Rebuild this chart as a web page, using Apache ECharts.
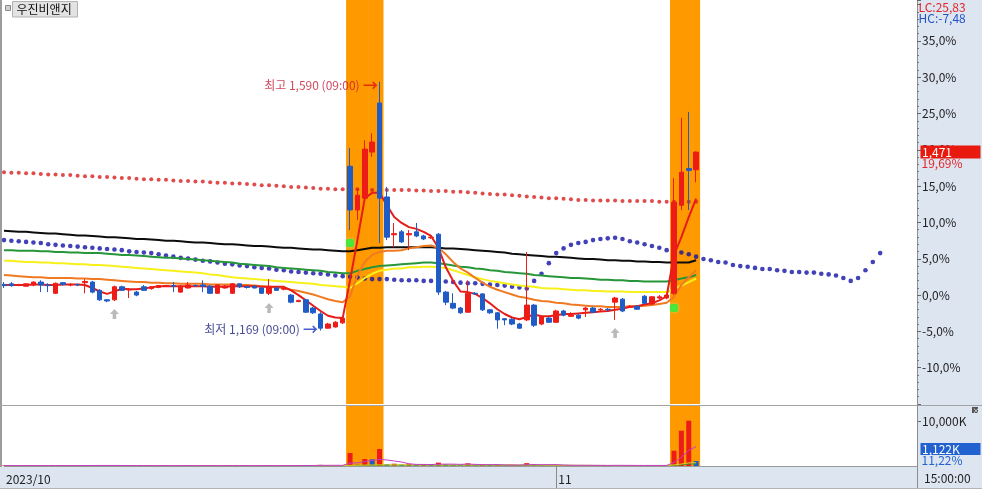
<!DOCTYPE html>
<html><head><meta charset="utf-8">
<script src="https://cdn.jsdelivr.net/npm/echarts@6/dist/echarts.min.js"></script>
<style>html,body{margin:0;padding:0;background:#fff}#c{width:982px;height:489px}</style>
</head><body><div id="c"></div>
<script>
// ---------------- data ----------------
const BASE = 1229;
const stockName = '우진비앤지';
const hiTime = '09:00', loTime = '09:00', lastTime = '15:00:00';
const xTickIdx = [0, 75];
const xTickText = ['2023/10', '11'];
const volPctLabel = 11.22;

const opens = [1247,1248,1246,1244,1246,1251,1246,1232,1250,1246, 1247,1250,1251,1237,1221,1221,1243,1238,1234,1243,
 1240,1242,1244,1245,1234,1241,1245,1246,1244,1232, 1241,1232,1248,1243,1244,1241,1232,1241,1239,1229,
 1218,1221,1207,1197,1173,1175,1182,1447,1373,1393, 1471,1554,1395,1331,1336,1331,1336,1329,1326,1332,
 1234,1215,1207,1200,1232,1231,1204,1199,1189,1188, 1180,1187,1212,1180,1190,1183,1202,1193,1195,1204,
 1207,1204,1205,1217,1222,1209,1210,1227,1214,1224, 1224,1232,1381,1443,1441];
const closes = [1245,1245,1246,1248,1251,1246,1245,1249,1247,1247, 1246,1252,1234,1221,1219,1243,1237,1238,1229,1237,
 1243,1245,1245,1244,1244,1246,1245,1244,1232,1246, 1244,1248,1243,1242,1241,1232,1243,1237,1240,1217,
 1220,1200,1199,1173,1180,1183,1190,1373,1398,1476, 1488,1393,1327,1333,1319,1333,1329,1324,1327,1234,
 1217,1207,1199,1232,1231,1204,1199,1187,1187,1180, 1173,1212,1178,1192,1183,1202,1195,1195,1190,1207,
 1200,1205,1204,1224,1202,1210,1205,1215,1226,1226, 1229,1386,1437,1440,1471];
const lows = [1241,1243,1244,1243,1244,1234,1234,1231,1245,1244, 1244,1232,1232,1219,1217,1219,1236,1224,1227,1236,
 1238,1241,1243,1234,1233,1240,1243,1234,1231,1231, 1240,1231,1241,1240,1240,1231,1229,1236,1237,1215,
 1217,1199,1197,1169,1172,1174,1180,1339,1356,1386, 1463,1317,1322,1310,1317,1305,1327,1322,1324,1229,
 1212,1205,1197,1199,1229,1202,1197,1172,1178,1178, 1172,1185,1175,1178,1182,1182,1193,1192,1188,1192,
 1199,1202,1202,1187,1200,1207,1204,1214,1212,1222, 1222,1229,1373,1373,1420];
const highs = [1251,1251,1248,1249,1252,1254,1249,1250,1251,1249, 1248,1256,1253,1239,1222,1245,1245,1241,1236,1246,
 1244,1246,1246,1251,1245,1251,1247,1254,1246,1247, 1246,1249,1249,1244,1245,1242,1256,1243,1241,1231,
 1221,1222,1209,1200,1182,1185,1192,1478,1410,1491, 1503,1590,1412,1351,1339,1339,1351,1331,1329,1334,
 1236,1232,1209,1254,1234,1232,1205,1200,1190,1190, 1182,1302,1214,1193,1192,1204,1204,1200,1197,1209,
 1209,1207,1207,1226,1224,1212,1212,1229,1227,1229, 1231,1427,1529,1539,1472];

const maRed = [1246,1246,1246,1246,1247,1247,1246,1246,1247,1247, 1247,1246,1241,1235,1231,1235,1240,1239,1239,1240,
 1242,1244,1244,1244,1244,1244,1244,1244,1243,1243, 1243,1244,1244,1244,1244,1243,1243,1243,1243,1237,
 1229,1220,1211,1202,1194,1191,1190,1254,1322,1393, 1402,1402,1381,1361,1351,1344,1341,1336,1329,1309,
 1276,1253,1235,1234,1231,1224,1215,1205,1197,1191, 1188,1192,1196,1193,1193,1195,1197,1197,1198,1199,
 1200,1201,1202,1204,1206,1209,1210,1213,1215,1220, 1227,1297,1327,1361,1392];
const maOrange = [1263,1262,1261,1260,1259,1259,1258,1258,1258,1258, 1257,1257,1256,1256,1255,1254,1253,1252,1251,1251,
 1250,1250,1249,1249,1248,1248,1248,1248,1247,1247, 1247,1247,1246,1246,1245,1244,1243,1242,1241,1238,
 1236,1233,1230,1226,1222,1219,1217,1227,1263,1285, 1297,1302,1304,1304,1305,1308,1310,1312,1313,1309,
 1298,1285,1274,1267,1258,1250,1243,1238,1234,1230, 1226,1224,1221,1219,1218,1216,1215,1213,1212,1211,
 1210,1210,1209,1209,1209,1210,1210,1211,1212,1214, 1216,1226,1246,1259,1271];
const maYellow = [1287,1287,1286,1285,1285,1284,1284,1283,1283,1282, 1281,1281,1280,1280,1279,1278,1277,1276,1275,1274,
 1273,1272,1271,1270,1269,1268,1267,1266,1264,1263, 1261,1259,1258,1257,1256,1255,1254,1253,1252,1251,
 1250,1249,1248,1246,1245,1244,1243,1241,1249,1258, 1265,1270,1272,1274,1274,1276,1276,1277,1277,1276,
 1275,1271,1267,1263,1259,1256,1253,1251,1249,1247, 1245,1244,1243,1241,1240,1240,1239,1238,1237,1237,
 1236,1236,1235,1235,1235,1234,1234,1234,1234,1234, 1234,1239,1245,1251,1257];
const maGreen = [1305,1305,1304,1304,1304,1303,1303,1302,1302,1301, 1301,1300,1300,1300,1299,1298,1297,1297,1296,1295,
 1294,1293,1292,1292,1291,1290,1289,1288,1287,1286, 1285,1284,1282,1281,1280,1279,1278,1276,1275,1274,
 1273,1272,1271,1270,1268,1267,1266,1266,1270,1273, 1276,1278,1279,1280,1281,1282,1283,1284,1284,1283,
 1281,1279,1277,1276,1274,1273,1271,1270,1268,1267, 1266,1265,1263,1262,1261,1260,1259,1258,1258,1257,
 1256,1255,1255,1254,1254,1253,1253,1252,1252,1252, 1252,1254,1257,1259,1263];
const maBlack = [1338,1337,1336,1336,1335,1334,1333,1333,1332,1331, 1330,1330,1329,1328,1327,1327,1326,1325,1324,1324,
 1323,1322,1321,1321,1320,1319,1318,1318,1317,1316, 1315,1315,1314,1313,1312,1312,1311,1310,1309,1309,
 1308,1307,1306,1306,1305,1304,1303,1303,1305,1307, 1309,1309,1310,1310,1310,1310,1310,1310,1310,1309,
 1308,1308,1307,1306,1305,1304,1303,1302,1301,1299, 1298,1297,1296,1295,1294,1294,1293,1292,1291,1290,
 1290,1289,1288,1288,1287,1287,1286,1286,1285,1285, 1284,1284,1284,1284,1288];
const redDots = [1437,1436,1436,1435,1435,1434,1433,1433,1432,1432, 1431,1430,1430,1429,1429,1428,1427,1427,1426,1425,
 1425,1424,1424,1423,1422,1422,1421,1421,1420,1419, 1419,1418,1418,1417,1416,1415,1415,1414,1413,1412,
 1412,1411,1410,1409,1409,1408,1408,1408,1408,1408, 1407,1407,1407,1407,1407,1407,1406,1406,1405,1405,
 1405,1404,1404,1403,1402,1401,1400,1399,1399,1398, 1397,1396,1395,1394,1393,1393,1392,1391,1390,1390,
 1389,1389,1389,1389,1388,1388,1388,1388,1388,1387, 1387,1387,1387,1387,1387];
const blueDots = [1322,1321,1320,1319,1318,1317,1315,1314,1313,1312, 1311,1310,1309,1308,1307,1306,1305,1303,1302,1301,
 1300,1298,1296,1294,1292,1291,1289,1287,1286,1284, 1282,1281,1279,1278,1276,1275,1274,1272,1271,1269,
 1268,1267,1266,1265,1264,1262,1261,1260,1259,1257, 1256,1256,1256,1255,1254,1254,1254,1253,1253,1253,
 1252,1251,1250,1249,1249,1248,1247,1246,1245,1243, 1242,1240,1253,1265,1283,1300,1308,1314,1317,1319,
 1322,1324,1325,1326,1324,1320,1318,1315,1312,1309, 1305,1303,1301,1298,1294,1290,1288,1285,1284,1280,
 1278,1277,1275,1273,1273,1271,1270,1268,1268,1267, 1267,1265,1264,1262,1258,1253,1258,1271,1285,1300];

const volumes = [120,90,80,100,110,130,90,150,80,70, 60,140,160,180,90,170,100,80,90,110,
 70,80,60,90,100,80,60,110,120,100, 80,110,70,60,70,90,130,80,70,160,
 60,190,150,260,120,110,130,2930,280,1580, 1500,3840,420,520,300,480,280,450,260,760,
 400,250,200,600,180,320,200,330,150,200, 160,650,380,200,150,220,140,160,120,180,
 130,110,100,200,150,110,100,140,130,120, 150,3450,7970,10230,1122];
const volMaA = [100,100,100,100,100,100,100,100,100,100, 100,100,110,120,120,120,110,100,100,100,
 90,90,90,90,90,90,90,90,90,90, 90,90,90,90,90,90,90,90,90,100,
 100,110,120,150,150,160,150,660,700,1000, 1260,1510,1360,1130,900,500,360,350,330,400,
 430,420,370,440,370,300,300,320,240,240, 210,300,310,310,300,320,220,170,160,160,
 150,140,130,150,150,140,130,120,130,120, 130,800,2000,3500,4400];
const volMaB = [100,100,100,100,100,100,100,100,100,100, 100,100,100,100,100,100,100,100,100,100,
 100,100,100,100,100,100,100,100,100,100, 100,100,100,100,100,100,100,100,100,100,
 100,100,100,100,100,100,100,150,160,200, 220,260,260,260,255,255,250,250,250,250,
 250,245,245,245,240,240,240,235,230,230, 225,220,210,200,190,180,165,150,140,130,
 125,120,115,110,110,105,100,100,100,100, 100,250,450,700,750];
const volMaC = [70,70,70,70,70,70,70,70,70,70, 70,70,70,70,70,70,70,70,70,70,
 70,70,70,70,70,70,70,70,70,70, 70,70,70,70,70,70,70,70,70,70,
 70,70,70,70,70,70,70,120,130,150, 170,200,200,198,196,194,192,190,188,186,
 184,182,180,178,176,172,170,160,158,154, 150,148,145,140,138,136,133,130,127,124,
 121,118,115,112,110,106,103,100,97,94, 91,150,300,450,500];

const bandIdx = [47, 48, 49, 50, 51, 91, 92, 93, 94];
const buyIdx = [47, 91];
const arrowIdx = [15, 36, 83];

// ---------------- helpers ----------------
const N_CAT = 125;
const categories = Array.from({length: N_CAT}, (_, i) => String(i));
const FONT = '"Noto Sans CJK KR", "Noto Sans", sans-serif';
const RED = '#ee1c17', BLUE = '#1f5cc6', AXBG = '#dde5f1', BAND = '#ff9900';
const pct = p => (p / BASE - 1) * 100;
const fmtNum = n => String(Math.round(n)).replace(/\B(?=(\d{3})+(?!\d))/g, ',');
const fmtPct1 = v => v.toFixed(1).replace('.', ',') + '%';
const fmtDec2 = v => v.toFixed(2).replace('.', ',');

const candleData = opens.map((o, i) => [pct(o), pct(closes[i]), pct(lows[i]), pct(highs[i])]);
let hiIdx = 0, loIdx = 0;
highs.forEach((h, i) => { if (h > highs[hiIdx]) hiIdx = i; });
lows.forEach((l, i) => { if (l < lows[loIdx]) loIdx = i; });
const lastClose = closes[closes.length - 1];
const lastVol = volumes[volumes.length - 1];
const lc = (lastClose / lows[loIdx] - 1) * 100;
const hc = (lastClose / highs[hiIdx] - 1) * 100;

function bandItem(params, api) {
  const c = api.coord([api.value(0), api.value(1)]);
  const w = api.size([1, 0])[0];
  const cs = params.coordSys;
  return {type: 'rect', shape: {x: c[0] - w / 2 - 0.3, y: cs.y, width: w + 0.6, height: cs.height}, style: {fill: BAND}};
}
const lineS = (data, color, w) => ({type: 'line', xAxisIndex: 0, yAxisIndex: 0, data: data.map(pct), showSymbol: false,
  symbol: 'none', lineStyle: {color: color, width: w}, z: 4, silent: true});
const vLineS = (data, color) => ({type: 'line', xAxisIndex: 1, yAxisIndex: 1, data: data, showSymbol: false,
  symbol: 'none', lineStyle: {color: color, width: 1}, z: 5, silent: true});

const option = {
  animation: false,
  backgroundColor: '#ffffff',
  grid: [
    {left: 4, right: 65, top: 0, height: 404, outerBoundsMode: 'none'},
    {left: 4, right: 65, top: 406, height: 60, outerBoundsMode: 'none'}
  ],
  xAxis: [
    {gridIndex: 0, type: 'category', data: categories, boundaryGap: false, show: false},
    {gridIndex: 1, type: 'category', data: categories, boundaryGap: false,
      axisLine: {show: true, lineStyle: {color: '#9a9a9a'}},
      axisTick: {show: true, interval: (i) => i === xTickIdx[1], length: 22, lineStyle: {color: '#8a8a8a'}},
      axisLabel: {show: true, interval: (i) => xTickIdx.indexOf(i) >= 0,
        formatter: (v, i) => { const k = xTickIdx.indexOf(i); return k >= 0 ? xTickText[k] : ''; },
        align: 'left', margin: 7, padding: [0, 0, 0, 2], color: '#222', fontSize: 12, fontFamily: FONT},
      splitLine: {show: false}}
  ],
  yAxis: [
    {gridIndex: 0, type: 'value', position: 'right', min: -15, max: 40.63, interval: 5,
      axisLine: {show: true, lineStyle: {color: '#8c8c8c'}},
      axisTick: {show: true, length: 4, lineStyle: {color: '#666'}},
      minorTick: {show: true, splitNumber: 5, length: 2, lineStyle: {color: '#777'}},
      splitLine: {show: false}, minorSplitLine: {show: false},
      axisLabel: {margin: 5, color: '#222', fontSize: 12, fontFamily: FONT, showMinLabel: false, showMaxLabel: false,
        formatter: v => (v > 37 || v < -12) ? '' : fmtPct1(v)}},
    {gridIndex: 1, type: 'value', position: 'right', min: 0, max: 13544, interval: 10000,
      axisLine: {show: true, lineStyle: {color: '#8c8c8c'}},
      axisTick: {show: true, length: 4, lineStyle: {color: '#666'}},
      splitLine: {show: false},
      axisLabel: {margin: 5, color: '#222', fontSize: 12, fontFamily: FONT, showMinLabel: false, showMaxLabel: false,
        formatter: v => (v > 0 && v % 10000 === 0) ? fmtNum(v) + 'K' : ''}}
  ],
  series: [
    {type: 'custom', xAxisIndex: 0, yAxisIndex: 0, renderItem: bandItem, data: bandIdx.map(i => [i, 0]),
      encode: {x: 0, y: 1}, z: 1, silent: true},
    {type: 'custom', xAxisIndex: 1, yAxisIndex: 1, renderItem: bandItem, data: bandIdx.map(i => [i, 0]),
      encode: {x: 0, y: 1}, z: 1, silent: true},
    {type: 'scatter', xAxisIndex: 0, yAxisIndex: 0, data: redDots.map(pct), symbol: 'circle', symbolSize: 4,
      itemStyle: {color: '#d81e1e'}, z: 3, silent: true},
    {type: 'scatter', xAxisIndex: 0, yAxisIndex: 0, data: blueDots.map(pct), symbol: 'circle', symbolSize: 4.6,
      itemStyle: {color: '#1212a6'}, z: 3, silent: true},
    lineS(maBlack, '#0c0c0c', 2),
    lineS(maGreen, '#27963a', 2),
    lineS(maYellow, '#f8f01a', 2),
    lineS(maOrange, '#f07a22', 2),
    lineS(maRed, '#e61c18', 2),
    {type: 'candlestick', xAxisIndex: 0, yAxisIndex: 0, data: candleData, barWidth: 5, z: 6, silent: true,
      itemStyle: {color: RED, color0: BLUE, borderColor: RED, borderColor0: BLUE, borderWidth: 1}},
    {type: 'scatter', xAxisIndex: 0, yAxisIndex: 0, data: buyIdx.map(i => [i, pct(lows[i])]), symbol: 'roundRect',
      symbolSize: 8, symbolOffset: [0, 13], itemStyle: {color: '#2ee82e', shadowColor: '#9f9', shadowBlur: 3}, z: 7, silent: true},
    {type: 'scatter', xAxisIndex: 0, yAxisIndex: 0, data: arrowIdx.map(i => [i, pct(lows[i])]),
      symbol: 'path://M5,0 L10,5 L7,5 L7,10 L3,10 L3,5 L0,5 Z', symbolSize: [9, 10], symbolOffset: [0, 13],
      itemStyle: {color: '#a9a9a9'}, z: 7, silent: true},
    {type: 'scatter', xAxisIndex: 0, yAxisIndex: 0, symbolSize: 1, itemStyle: {color: 'rgba(0,0,0,0)'}, z: 8, silent: true,
      data: [
        {value: [hiIdx, pct(highs[hiIdx])], label: {show: true, position: 'left', distance: 1, offset: [0, 4],
          formatter: '{t|최고 ' + fmtNum(highs[hiIdx]) + ' (' + hiTime + ')} {a|→}',
          rich: {t: {color: '#c41a34', fontSize: 12, fontFamily: FONT},
                 a: {color: '#e41010', fontSize: 15, fontWeight: 'bold', fontFamily: FONT}}}},
        {value: [loIdx, pct(lows[loIdx])], label: {show: true, position: 'left', distance: 2, offset: [0, -1],
          formatter: '{t|최저 ' + fmtNum(lows[loIdx]) + ' (' + loTime + ')} {a|→}',
          rich: {t: {color: '#18207a', fontSize: 12, fontFamily: FONT},
                 a: {color: '#1a36c0', fontSize: 15, fontWeight: 'bold', fontFamily: FONT}}}}
      ]},
    {type: 'bar', xAxisIndex: 1, yAxisIndex: 1, barWidth: 5, z: 3, silent: true,
      data: volumes.map((v, i) => ({value: v, itemStyle: {color: (i === 0 || v >= volumes[i - 1]) ? RED : BLUE}}))},
    vLineS(volMaC, '#2b9a3c'),
    vLineS(volMaB, '#e6c81c'),
    vLineS(volMaA, '#c23cc8')
  ]
};

const chart = echarts.init(document.getElementById('c'), null, {renderer: 'canvas'});
chart.setOption(option);

const yClose = chart.convertToPixel({yAxisIndex: 0}, pct(lastClose));
const yVol0 = chart.convertToPixel({yAxisIndex: 1}, 0);
const yVol = Math.min(chart.convertToPixel({yAxisIndex: 1}, lastVol), yVol0 - 17);
const xAx = chart.convertToPixel({xAxisIndex: 0}, categories[N_CAT - 1]);
const tx = (text, x, y, fill, size, z) => ({type: 'text', z: z || 20,
  style: {text: text, x: x, y: y, fill: fill, font: (size || 12) + 'px ' + FONT, textAlign: 'left', align: 'left',
    textVerticalAlign: 'middle', verticalAlign: 'middle'}});

chart.setOption({graphic: [
  {type: 'rect', z: -10, shape: {x: xAx, y: 0, width: 982 - xAx, height: 467}, style: {fill: AXBG}},
  {type: 'rect', z: -10, shape: {x: 0, y: 467, width: 982, height: 22}, style: {fill: AXBG}},
  {type: 'rect', z: 20, shape: {x: 0, y: 0, width: 2, height: 467}, style: {fill: '#9c9c9c'}},
  {type: 'line', z: 20, shape: {x1: 0, y1: 405.5, x2: 982, y2: 405.5}, style: {stroke: '#a4a4a4', lineWidth: 1}},
  {type: 'line', z: 20, shape: {x1: xAx + 0.5, y1: 400, x2: xAx + 0.5, y2: 489}, style: {stroke: '#8c8c8c', lineWidth: 1}},
  {type: 'line', z: 20, shape: {x1: 0, y1: 488.5, x2: 982, y2: 488.5}, style: {stroke: '#b4b4b4', lineWidth: 1}},
  {type: 'rect', z: 20, shape: {x: 5.5, y: 5.5, width: 5, height: 5}, style: {fill: '#d0d0d0', stroke: '#8a8a8a', lineWidth: 1}},
  {type: 'rect', z: 20, shape: {x: 12.5, y: 1.5, width: 65, height: 15.5}, style: {fill: '#e3e3e3', stroke: '#b2b2b2', lineWidth: 1}},
  tx(stockName, 16.5, 9.5, '#111', 12),
  tx('LC:' + fmtDec2(lc), 918.5, 7, '#e3262a', 12),
  tx('HC:' + fmtDec2(hc), 918.5, 18, '#2253c4', 12),
  tx(fmtDec2(pct(lastClose)) + '%', 921.5, yClose + 11, '#e3262a', 12),
  {type: 'rect', z: 21, shape: {x: 920.5, y: yClose - 6.5, width: 60, height: 13}, style: {fill: '#e8190f'}},
  tx(fmtNum(lastClose), 922, yClose, '#ffffff', 12, 22),
  tx(fmtDec2(volPctLabel) + '%', 921.5, yVol + 11, '#2262d0', 12),
  {type: 'rect', z: 21, shape: {x: 920.5, y: yVol - 6, width: 60, height: 12}, style: {fill: '#2262d0'}},
  tx(fmtNum(lastVol) + 'K', 922, yVol, '#ffffff', 12, 22),
  tx(lastTime, 924, 478.5, '#222', 12),
  {type: 'rect', z: 20, shape: {x: 972, y: 407, width: 6, height: 6}, style: {fill: '#555'}},
  tx('×', 972.6, 410, '#fff', 7)
]});
</script></body></html>
